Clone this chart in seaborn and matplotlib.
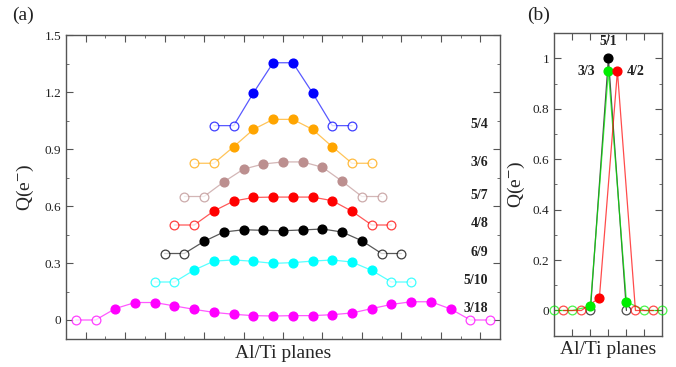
import numpy as np
import pandas as pd
import matplotlib
matplotlib.use("Agg")
import matplotlib.pyplot as plt
import seaborn as sns
from matplotlib.ticker import MultipleLocator

sns.set_style("ticks")
plt.rcParams['font.family'] = ['Liberation Serif', 'DejaVu Serif']
plt.rcParams['mathtext.fontset'] = 'stix'

# ---------------- Panel (a) data ----------------
a_labels = ["5/4", "3/6", "5/7", "4/8", "6/9", "5/10", "3/18"]
a_colors = ["#0000ff", "#ffa500", "#bc8f8f", "#ff0000", "#000000", "#00ffff", "#ff00ff"]
a_start = [7, 6, 5.5, 5, 4.5, 4, 0]
q_54 = [1.023, 1.023, 1.195, 1.354, 1.354, 1.195, 1.023, 1.023]
q_36 = [0.825, 0.825, 0.912, 1.003, 1.056, 1.056, 1.003, 0.912, 0.825, 0.825]
q_57 = [0.65, 0.65, 0.727, 0.794, 0.821, 0.832, 0.832, 0.804, 0.73, 0.65, 0.65]
q_48 = [0.5, 0.5, 0.574, 0.626, 0.645, 0.647, 0.647, 0.647, 0.628, 0.572, 0.5, 0.5]
q_69 = [0.35, 0.35, 0.414, 0.463, 0.475, 0.472, 0.470, 0.474, 0.479, 0.463, 0.417, 0.35, 0.35]
q_510 = [0.2, 0.2, 0.263, 0.31, 0.316, 0.309, 0.298, 0.302, 0.31, 0.316, 0.305, 0.261, 0.2, 0.2]
q_318 = [0.0, 0.0, 0.06, 0.092, 0.092, 0.074, 0.056, 0.04, 0.03, 0.023, 0.021, 0.023,
         0.023, 0.028, 0.037, 0.06, 0.082, 0.096, 0.096, 0.058, 0.0, 0.0]
a_values = [q_54, q_36, q_57, q_48, q_69, q_510, q_318]

# ---------------- Panel (b) data ----------------
b_labels = ["5/1", "3/3", "4/2"]
b_colors = ["#000000", "#00ee00", "#ff0000"]
b_x_51 = [4, 6, 8]
b_q_51 = [0.0, 1.0, 0.0]
b_x_33 = [0, 2, 4, 6, 8, 10, 12]
b_q_33 = [0.0, 0.0, 0.017, 0.95, 0.035, 0.0, 0.0]
b_x_42 = [1, 3, 5, 7, 9, 11]
b_q_42 = [0.0, 0.0, 0.05, 0.95, 0.0, 0.0]
b_x = [b_x_51, b_x_33, b_x_42]
b_q = [b_q_51, b_q_33, b_q_42]

fig = plt.figure(figsize=(6.76, 3.67), dpi=100)
axa = fig.add_axes([0.0976, 0.0763, 0.642, 0.8283])
axb = fig.add_axes([0.820, 0.0853, 0.160, 0.8240])

ms = 6.3
spine_col = "#555555"

def style_axes(ax):
    for s in ax.spines.values():
        s.set_visible(True)
        s.set_color(spine_col)
        s.set_linewidth(1.0)
    ax.tick_params(which='both', direction='in', top=True, right=True,
                   color=spine_col, labelsize=9.5, labelcolor='#222222')
    ax.tick_params(which='major', length=5)
    ax.tick_params(which='minor', length=2.5)
    ax.tick_params(axis='x', which='both', labelbottom=False)

# Panel (a)
for lab, col, x0, vals in zip(a_labels, a_colors, a_start, a_values):
    n = len(vals)
    df = pd.DataFrame({"x": x0 + np.arange(n), "q": vals})
    df["open"] = [(i < 2 or i >= n - 2) for i in range(n)]
    sns.lineplot(data=df, x="x", y="q", ax=axa, color=col, lw=0.9, alpha=0.65,
                 estimator=None, sort=False)
    d_f = df[~df["open"]]
    d_o = df[df["open"]]
    axa.plot(d_f["x"], d_f["q"], 'o', color=col, ms=ms, mec=col, zorder=3)
    axa.plot(d_o["x"], d_o["q"], 'o', mfc='white', mec=col, ms=ms, mew=0.9,
             alpha=0.75, zorder=3)
    off = 0.062 if lab == "3/18" else 0.006
    axa.text(20.9, vals[0] + off, lab, ha='right', va='center',
             fontsize=10, fontweight='bold', color='#222222')

axa.set_xlim(-0.5, 21.5)
axa.set_ylim(-0.1, 1.5)
axa.xaxis.set_major_locator(MultipleLocator(2, offset=0.5))
axa.xaxis.set_minor_locator(MultipleLocator(1, offset=0.5))
axa.yaxis.set_major_locator(MultipleLocator(0.3))
axa.yaxis.set_minor_locator(MultipleLocator(0.15))
axa.set_yticks([0, 0.3, 0.6, 0.9, 1.2, 1.5])
axa.set_yticklabels(["0", "0.3", "0.6", "0.9", "1.2", "1.5"])
style_axes(axa)
axa.set_xlabel("Al/Ti planes", fontsize=14, labelpad=4)
axa.set_ylabel("Q(e$^{-}$)", fontsize=14, labelpad=6)

# Panel (b)
for lab, col, xs, vals in zip(b_labels, b_colors, b_x, b_q):
    df = pd.DataFrame({"x": xs, "q": vals})
    sns.lineplot(data=df, x="x", y="q", ax=axb, color=col, lw=0.9, alpha=0.7,
                 estimator=None, sort=False)
    d_f = df[df["q"] != 0]
    d_o = df[df["q"] == 0]
    axb.plot(d_o["x"], d_o["q"], 'o', mfc='none', mec=col, ms=ms, mew=0.9,
             alpha=0.7, zorder=3, clip_on=False)
    axb.plot(d_f["x"], d_f["q"], 'o', color=col, ms=ms, zorder=4)

axb.text(b_x_51[1], b_q_51[1] + 0.04, b_labels[0], ha='center', va='bottom',
         fontsize=10, fontweight='bold', color='#222222')
axb.text(b_x_33[3] - 1.45, b_q_33[3], b_labels[1], ha='right', va='center',
         fontsize=10, fontweight='bold', color='#222222')
axb.text(b_x_42[3] + 1.0, b_q_42[3], b_labels[2], ha='left', va='center',
         fontsize=10, fontweight='bold', color='#222222')

axb.set_xlim(0, 12)
axb.set_ylim(-0.1, 1.1)
axb.xaxis.set_major_locator(MultipleLocator(2))
axb.set_xticks([2, 4, 6, 8, 10])
axb.set_yticks([0, 0.2, 0.4, 0.6, 0.8, 1.0])
axb.set_yticklabels(["0", "0.2", "0.4", "0.6", "0.8", "1"])
axb.yaxis.set_minor_locator(MultipleLocator(0.1))
style_axes(axb)
axb.set_xlabel("Al/Ti planes", fontsize=14, labelpad=4)
axb.set_ylabel("Q(e$^{-}$)", fontsize=14, labelpad=4)

fig.text(0.018, 0.945, "(a)", fontsize=14, color='#222222')
fig.text(0.78, 0.945, "(b)", fontsize=14, color='#222222')

fig.savefig("out.png", dpi=100)
